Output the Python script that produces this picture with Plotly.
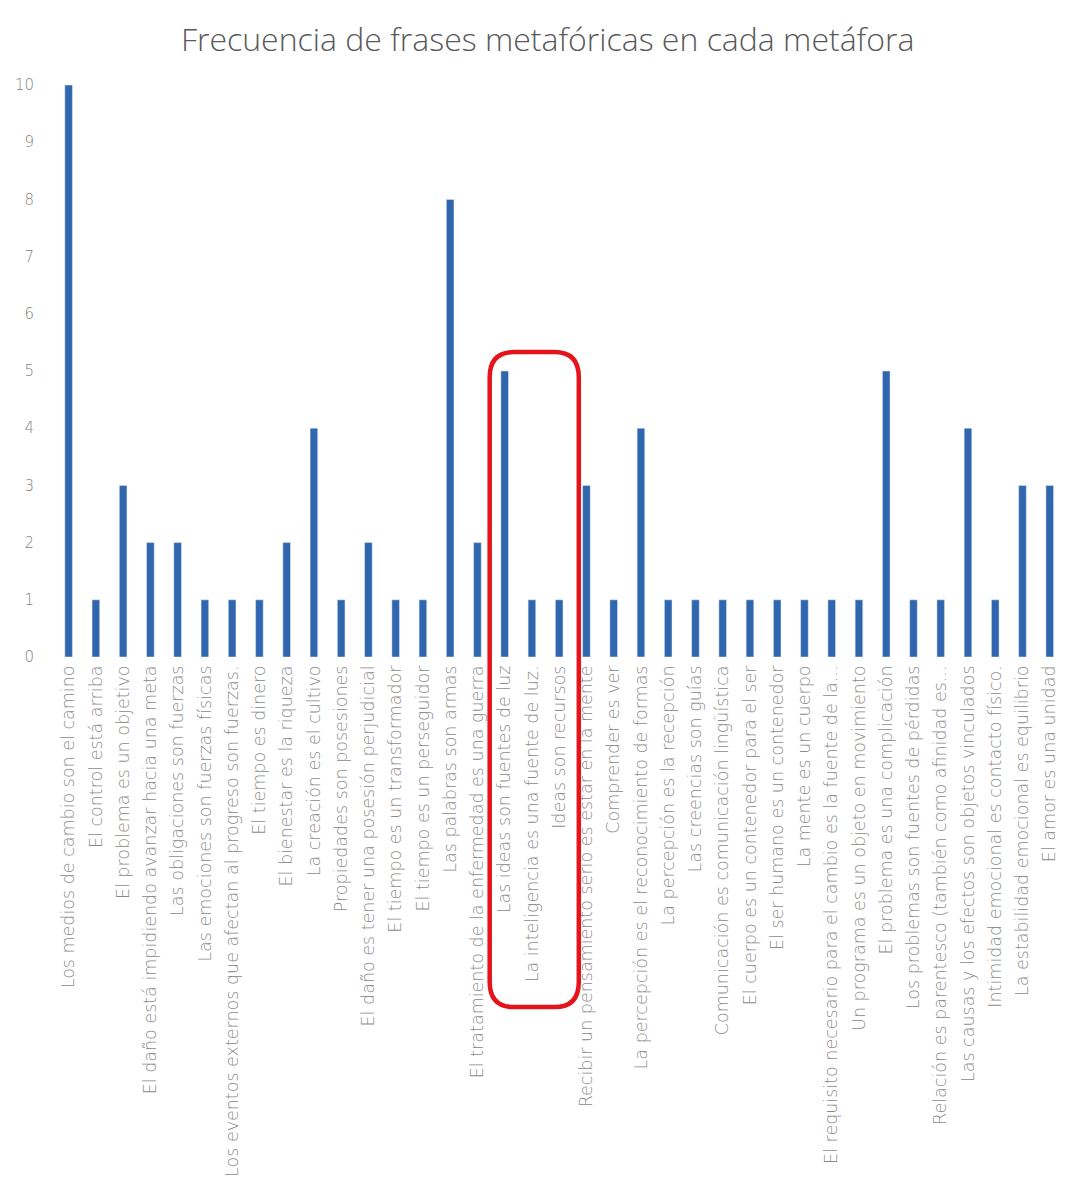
import plotly.graph_objects as go

categories = [
    "Los medios de cambio son el camino",
    "El control está arriba",
    "El problema es un objetivo",
    "El daño está impidiendo avanzar hacia una meta",
    "Las obligaciones son fuerzas",
    "Las emociones son fuerzas físicas",
    "Los eventos externos que afectan al progreso son fuerzas.",
    "El tiempo es dinero",
    "El bienestar es la riqueza",
    "La creación es el cultivo",
    "Propiedades son posesiones",
    "El daño es tener una posesión perjudicial",
    "El tiempo es un transformador",
    "El tiempo es un perseguidor",
    "Las palabras son armas",
    "El tratamiento de la enfermedad es una guerra",
    "Las ideas son fuentes de luz",
    "La inteligencia es una fuente de luz.",
    "Ideas son recursos",
    "Recibir un pensamiento serio es estar en la mente",
    "Comprender es ver",
    "La percepción es el reconocimiento de formas",
    "La percepción es la recepción",
    "Las creencias son guías",
    "Comunicación es comunicación lingüística",
    "El cuerpo es un contenedor para el ser",
    "El ser humano es un contenedor",
    "La mente es un cuerpo",
    "El requisito necesario para el cambio es la fuente de la...",
    "Un programa es un objeto en movimiento",
    "El problema es una complicación",
    "Los problemas son fuentes de pérdidas",
    "Relación es parentesco (también como afinidad es...",
    "Las causas y los efectos son objetos vinculados",
    "Intimidad emocional es contacto físico.",
    "La estabilidad emocional es equilibrio",
    "El amor es una unidad",
]
values = [10, 1, 3, 2, 2, 1, 1, 1, 2, 4, 1, 2, 1, 1, 8, 2, 5, 1, 1, 3,
          1, 4, 1, 1, 1, 1, 1, 1, 1, 1, 5, 1, 1, 4, 1, 3, 3]
y_ticks = list(range(0, 11))

# highlighted group (indices of categories)
highlight_first, highlight_last = 16, 18

x = list(range(len(categories)))

fig = go.Figure(go.Bar(
    x=x, y=values, marker_color="#2F66AE", width=0.28,
))

# rounded highlight box in x-data / y-paper coords
x0, x1 = highlight_first - 0.55, highlight_last + 0.72
y0, y1 = -0.612, 0.533  # paper
rx, ry = 0.9, 0.044
path = (f"M {x0+rx},{y1} L {x1-rx},{y1} Q {x1},{y1} {x1},{y1-ry} "
        f"L {x1},{y0+ry} Q {x1},{y0} {x1-rx},{y0} L {x0+rx},{y0} "
        f"Q {x0},{y0} {x0},{y0+ry} L {x0},{y1-ry} Q {x0},{y1} {x0+rx},{y1} Z")
fig.add_shape(type="path", path=path, xref="x", yref="paper",
              line=dict(color="#E3141B", width=4.5), layer="above")

fig.update_layout(
    width=1054, height=1181,
    margin=dict(l=47, r=0, t=77, b=532, autoexpand=False),
    paper_bgcolor="white", plot_bgcolor="white",
    title=dict(text="Frecuencia de frases metafóricas en cada metáfora",
               x=0.512, xanchor="center", y=1 - 32 / 1181, yanchor="middle",
               font=dict(family="Open Sans", size=32, weight=300, color="#595959")),
    showlegend=False,
    bargap=0.7,
    font=dict(family="DejaVu Sans", color="#808080"),
)
fig.update_xaxes(
    range=[-0.5, len(categories) - 0.55],
    tickmode="array", tickvals=x, ticktext=categories,
    tickangle=-90, automargin=False,
    tickfont=dict(family="DejaVu Sans", size=17.5, weight=200, color="#8a8a8a"),
    ticklabelstandoff=4, ticklabeloverflow="allow",
    showgrid=False, showline=False, zeroline=False, ticks="",
)
fig.update_yaxes(
    range=[0, 10], tickmode="array", tickvals=y_ticks, automargin=False,
    tickfont=dict(family="DejaVu Sans", size=15, weight=200, color="#7f7f7f"),
    ticklabelstandoff=20,
    showgrid=False, zeroline=False, showline=False, ticks="",
)

fig.write_html("out.html")
